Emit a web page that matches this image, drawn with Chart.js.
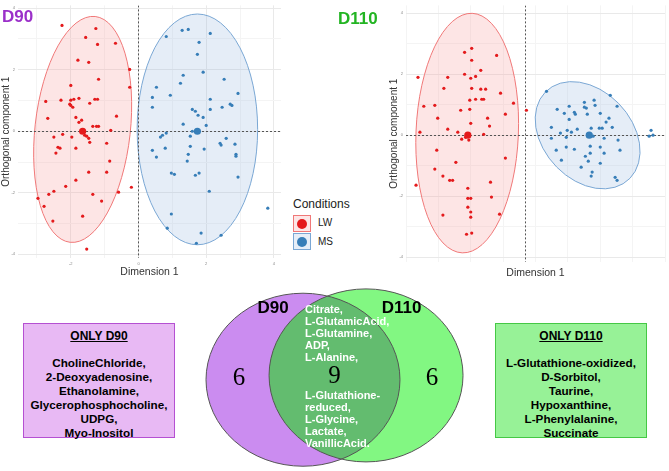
<!DOCTYPE html>
<html><head><meta charset="utf-8">
<script src="https://cdn.jsdelivr.net/npm/chart.js@4/dist/chart.umd.min.js"></script>
<style>
html,body{margin:0;padding:0;background:#fff;}
body{width:669px;height:471px;position:relative;overflow:hidden;font-family:"Liberation Sans",Arial,sans-serif;}
canvas{position:absolute;}
.abs{position:absolute;white-space:nowrap;}
.ttl{font-weight:bold;font-size:17px;line-height:17px;}
.box{position:absolute;box-sizing:border-box;border:1px solid;}
.box .hd{position:absolute;left:0;right:0;top:5px;text-align:center;font-weight:bold;font-size:12px;line-height:14px;text-decoration:underline;}
.box .ls{position:absolute;left:0;right:0;top:32px;text-align:center;font-weight:bold;font-size:11.7px;line-height:14px;}
.shared{position:absolute;color:#fff;font-weight:bold;font-size:11px;line-height:12px;white-space:nowrap;}
.key{position:absolute;width:18px;height:17px;box-sizing:border-box;border:1px solid;}
.key i{position:absolute;left:3px;top:2.5px;width:10px;height:10px;border-radius:50%;}
</style></head><body>
<canvas id="c90" width="285" height="278" style="left:0;top:0"></canvas>
<canvas id="c110" width="281" height="279" style="left:388px;top:0"></canvas>
<canvas id="cv" width="270" height="186" style="left:200px;top:285px"></canvas>
<div id="overlay"></div>
<script>
// ---------- DATA ----------
const conditions = ['LW', 'MS'];
const conditionColors = ['#e41a1c', '#377eb8'];

const d90LW = [[-2.26,3.44],[-1.26,3.34],[-1.56,3.05],[-1.21,2.82],[-0.68,2.86],[-1.79,2.31],[-1.47,2.24],[-0.26,2.01],
[-1.18,1.69],[-2.00,1.49],[-0.26,1.43],[-2.74,0.97],[-2.29,1.01],[-2.00,1.01],[-1.76,1.07],[-1.91,1.04],[-1.29,1.04],
[-1.21,1.04],[-1.44,0.91],[-2.00,0.84],[-1.94,0.78],[-2.03,0.88],[-0.65,0.49],[-2.68,0.42],[-1.85,0.45],[-1.68,0.36],
[-1.76,0.29],[-1.35,0.16],[-1.24,0.16],[-1.18,0.16],[-0.82,0.03],[-2.24,-0.10],[-1.97,-0.19],[-2.50,-0.19],[-1.59,-0.13],
[-1.53,-0.16],[-1.47,-0.23],[-1.44,-0.36],[-0.94,-0.39],[-2.38,-0.52],[-2.32,-0.55],[-1.85,-0.55],[-2.44,-0.71],
[-0.85,-0.97],[-1.47,-1.33],[-0.94,-1.33],[-1.85,-1.59],[-2.15,-1.79],[-0.21,-1.82],[-2.50,-1.95],[-2.65,-2.05],
[-2.97,-2.18],[-1.35,-2.05],[-0.59,-1.98],[-1.09,-2.27],[-2.79,-2.44],[-1.65,-2.76],[-2.53,-2.92],[-1.53,-3.83]];
const d90MS = [[0.82,3.08],[1.29,3.28],[1.47,3.31],[2.12,3.18],[1.79,2.89],[1.74,2.50],[1.32,1.82],[1.91,1.92],
[1.24,1.56],[0.53,1.43],[2.53,1.69],[2.94,1.23],[0.94,1.17],[0.41,1.10],[2.12,1.04],[2.71,0.88],[2.76,0.84],[0.41,0.78],
[2.47,0.78],[2.12,0.71],[1.59,0.71],[1.68,0.65],[1.76,0.52],[1.91,0.45],[1.32,0.23],[2.00,0.19],[1.59,0.00],[0.82,-0.06],
[0.71,-0.13],[0.65,-0.19],[1.53,-0.16],[2.59,-0.23],[2.41,-0.39],[2.44,-0.45],[2.85,-0.42],[1.53,-0.49],[0.79,-0.55],
[0.41,-0.62],[1.94,-0.58],[1.47,-0.75],[2.88,-0.75],[2.88,-0.81],[0.53,-0.84],[1.44,-0.97],[0.97,-1.36],[1.06,-1.40],
[1.68,-1.43],[1.79,-1.36],[2.94,-1.49],[2.09,-1.95],[3.82,-2.50],[0.97,-2.69],[0.85,-3.15],[1.85,-3.31],[2.44,-3.38],[1.71,-3.64]];
const d90Centroids = [[-1.65,0.00],[1.74,0.00]];
// ellipse: [centerX, centerY, u_x, u_y, v_x, v_y] (conjugate half-axes, data units)
const d90EllipseLW = [-1.65,0.06,0.37,3.67,1.40,-0.17];
const d90EllipseMS = [1.74,0.06,0.00,3.75,1.78,0.00];

const d110LW = [[-1.66,2.85],[-1.88,2.72],[-0.89,2.62],[-1.66,2.46],[-1.38,2.13],[-3.32,1.90],[-2.40,1.90],[-1.88,2.00],
[-1.69,1.87],[-1.54,1.93],[-2.52,1.54],[-1.66,1.54],[-1.38,1.51],[-1.23,1.51],[-0.77,1.38],[-1.72,1.15],[-1.54,1.18],
[-1.35,1.18],[-1.29,1.18],[-0.37,1.05],[0.03,0.82],[-3.14,0.95],[-2.80,0.98],[-2.00,0.82],[-1.72,0.85],[-0.62,0.69],
[-2.71,0.56],[-1.17,0.56],[-1.69,0.39],[-1.11,0.30],[-3.26,0.10],[-2.40,0.20],[-2.09,0.10],[-1.29,0.03],[-1.97,-0.13],
[-1.75,-0.16],[-1.85,-0.07],[-2.74,-0.49],[-0.62,-0.75],[-2.15,-0.89],[-2.80,-1.11],[-2.55,-1.34],[-2.34,-1.48],
[-2.25,-1.48],[-1.08,-1.54],[-3.38,-1.64],[-1.78,-1.74],[-1.78,-2.07],[-1.69,-2.07],[-1.05,-2.03],[-1.78,-2.36],
[-1.69,-2.52],[-2.55,-2.62],[-0.80,-2.59],[-1.69,-2.69],[-1.82,-3.25],[-1.66,-3.21]];
const d110MS = [[0.65,1.44],[2.62,1.31],[2.12,1.15],[1.82,1.08],[2.15,0.98],[1.35,0.95],[1.82,0.92],[1.88,0.89],
[2.83,0.95],[0.98,0.85],[1.20,0.72],[1.51,0.75],[2.31,0.72],[1.91,0.69],[1.54,0.69],[2.58,0.56],[1.35,0.52],[2.49,0.43],
[0.80,0.26],[1.29,0.16],[1.60,0.20],[2.03,0.23],[2.28,0.23],[2.37,0.23],[2.68,0.26],[1.08,0.07],[1.42,0.10],[2.09,-0.03],
[0.80,-0.10],[1.26,-0.07],[2.43,-0.10],[2.86,-0.16],[3.88,0.16],[3.94,0.00],[3.82,-0.03],[0.95,-0.49],[1.26,-0.39],
[1.51,-0.46],[2.00,-0.36],[2.31,-0.39],[2.92,-0.49],[1.85,-0.69],[2.00,-0.59],[2.43,-0.59],[1.11,-0.82],[1.94,-0.85],
[2.31,-0.92],[1.72,-1.05],[2.06,-1.21],[2.03,-1.34],[2.77,-1.38],[2.83,-1.48]];
const d110Centroids = [[-1.78,0.00],[1.97,0.00]];
const d110EllipseLW = [-1.80,0.07,0.154,3.93,1.58,-0.07];
const d110EllipseMS = [1.92,0.00,1.60,-0.26,-0.25,1.74];

const xTickLabels = [-2, 0, 2, 4];
const yTickLabels = [-4, -2, 0, 2, 4];

// Venn
const vennSets = ['D90', 'D110'];
const vennCounts = [6, 9, 6];           // only D90, both, only D110
const onlyD90 = ['CholineChloride','2-Deoxyadenosine','Ethanolamine','Glycerophosphocholine','UDPG','Myo-Inositol'];
const onlyD110 = ['L-Glutathione-oxidized','D-Sorbitol','Taurine','Hypoxanthine','L-Phenylalanine','Succinate'];
const shared = ['Citrate','L-GlutamicAcid','L-Glutamine','ADP','L-Alanine','L-Glutathione-reduced','L-Glycine','Lactate','VanillicAcid'];

// ---------- DRAWING ----------
const pt = a => a.map(p => ({x: p[0], y: p[1]}));

const ellipsePlugin = {
  id: 'ellipses',
  beforeDatasetsDraw(chart, args, opts) {
    const {ctx, chartArea: a, scales: {x, y}} = chart;
    ctx.save();
    ctx.beginPath(); ctx.rect(a.left, a.top, a.width, a.height); ctx.clip();
    (opts.items || []).forEach(e => {
      const [cx, cy, ux, uy, vx, vy] = e.p;
      const C = [x.getPixelForValue(cx), y.getPixelForValue(cy)];
      const U = [x.getPixelForValue(cx + ux) - C[0], y.getPixelForValue(cy + uy) - C[1]];
      const V = [x.getPixelForValue(cx + vx) - C[0], y.getPixelForValue(cy + vy) - C[1]];
      ctx.save();
      ctx.beginPath();
      ctx.transform(U[0], U[1], V[0], V[1], C[0], C[1]);
      ctx.arc(0, 0, 1, 0, Math.PI * 2);
      ctx.restore();
      ctx.fillStyle = e.fill; ctx.fill();
      ctx.strokeStyle = e.stroke; ctx.lineWidth = 1; ctx.stroke();
    });
    ctx.setLineDash([2, 2]); ctx.strokeStyle = '#555'; ctx.lineWidth = 1;
    const x0 = Math.round(x.getPixelForValue(0)) + 0.5, y0 = Math.round(y.getPixelForValue(0)) + 0.5;
    ctx.beginPath();
    ctx.moveTo(x0, a.top); ctx.lineTo(x0, a.bottom);
    ctx.moveTo(a.left, y0); ctx.lineTo(a.right, y0);
    ctx.stroke();
    ctx.restore();
  }
};

function scatter(id, lw, ms, cents, eLW, eMS, xr, yr, xH, padR) {
  const gridCol = (list) => (c) => (c.tick && list.includes(c.tick.value)) ? '#e9e9e9' : '#f4f4f4';
  const tickCb = (list) => (v) => list.includes(v) ? String(v) : '';
  new Chart(document.getElementById(id), {
    type: 'scatter',
    data: { datasets: [
      {label: conditions[0], data: pt(lw), backgroundColor: conditionColors[0], borderColor: conditionColors[0], pointRadius: 1.6, pointBorderWidth: 0},
      {label: conditions[1], data: pt(ms), backgroundColor: conditionColors[1], borderColor: conditionColors[1], pointRadius: 1.6, pointBorderWidth: 0},
      {label: 'centroids', data: pt(cents), backgroundColor: conditionColors, pointRadius: 3.6, pointBorderWidth: 0}
    ]},
    options: {
      responsive: false, animation: false, events: [],
      layout: {padding: {top: 5, right: padR, left: 0, bottom: 0}},
      plugins: {legend: {display: false}, tooltip: {enabled: false},
        ellipses: {items: [
          {p: eLW, fill: 'rgba(248,160,160,0.28)', stroke: '#f07878'},
          {p: eMS, fill: 'rgba(150,185,225,0.25)', stroke: '#7aa7d4'}
        ]}},
      scales: {
        x: {type: 'linear', min: xr[0], max: xr[1],
          afterFit: s => { s.height = xH; },
          border: {display: false},
          grid: {drawTicks: false, color: gridCol(xTickLabels), lineWidth: 1},
          ticks: {stepSize: 1, includeBounds: false, autoSkip: false, maxRotation: 0, padding: 3, font: {size: 4}, color: '#888', callback: tickCb(xTickLabels)},
          title: {display: true, text: 'Dimension 1', font: {size: 10.5, family: 'Liberation Sans'}, color: '#333', padding: 0}},
        y: {type: 'linear', min: yr[0], max: yr[1],
          afterFit: s => { s.width = 18; },
          border: {display: false},
          grid: {drawTicks: false, color: gridCol(yTickLabels), lineWidth: 1},
          ticks: {stepSize: 1, includeBounds: false, autoSkip: false, padding: 3, font: {size: 4}, color: '#888', callback: tickCb(yTickLabels)},
          title: {display: true, text: 'Orthogonal component 1', font: {size: 10, family: 'Liberation Sans'}, color: '#333', padding: 0}}
      }
    },
    plugins: [ellipsePlugin]
  });
}

scatter('c90', d90LW, d90MS, d90Centroids, d90EllipseLW, d90EllipseMS, [-3.56, 4.21], [-4.12, 4.09], 20, 3);
scatter('c110', d110LW, d110MS, d110Centroids, d110EllipseLW, d110EllipseMS, [-3.69, 4.31], [-4.16, 4.26], 17, 2);

// Venn diagram
const vennPlugin = {
  id: 'venn',
  afterDraw(chart, args, o) {
    const {ctx, scales: {x, y}} = chart;
    const path = c => {
      const cx = x.getPixelForValue(c[0]), cy = y.getPixelForValue(c[1]);
      const rx = Math.abs(x.getPixelForValue(c[0] + c[2]) - cx), ry = Math.abs(y.getPixelForValue(c[1] + c[2]) - cy);
      ctx.beginPath(); ctx.ellipse(cx, cy, rx, ry, 0, 0, Math.PI * 2);
    };
    ctx.save();
    path(o.circles[0]); ctx.fillStyle = '#cb8cf0'; ctx.fill();
    path(o.circles[1]); ctx.fillStyle = '#82f782'; ctx.fill();
    ctx.save(); path(o.circles[0]); ctx.clip(); path(o.circles[1]); ctx.fillStyle = '#63bc6f'; ctx.fill(); ctx.restore();
    ctx.strokeStyle = '#555'; ctx.lineWidth = 1;
    path(o.circles[0]); ctx.stroke();
    path(o.circles[1]); ctx.stroke();
    ctx.fillStyle = '#000'; ctx.textAlign = 'center'; ctx.textBaseline = 'middle';
    ctx.font = 'bold 17px "Liberation Sans"';
    vennSets.forEach((s, i) => ctx.fillText(s, x.getPixelForValue(o.setPos[i][0]), y.getPixelForValue(o.setPos[i][1])));
    ctx.font = '25px "Liberation Serif"';
    vennCounts.forEach((n, i) => ctx.fillText(String(n), x.getPixelForValue(o.countPos[i][0]), y.getPixelForValue(o.countPos[i][1])));
    ctx.restore();
  }
};
new Chart(document.getElementById('cv'), {
  type: 'scatter',
  data: {datasets: []},
  options: {
    responsive: false, animation: false, events: [],
    layout: {padding: 0},
    plugins: {legend: {display: false}, tooltip: {enabled: false},
      venn: {
        circles: [[-0.325, -0.02, 1], [0.325, 0.03, 1]],
        setPos: [[-0.634, 0.80], [0.691, 0.80]],
        countPos: [[-0.985, 0.0], [0.0, 0.02], [1.005, 0.0]]
      }},
    scales: {x: {display: false, min: -1.387, max: 1.397}, y: {display: false, min: -1.075, max: 1.075}}
  },
  plugins: [vennPlugin]
});

// ---------- HTML text ----------
const ov = document.getElementById('overlay');
function add(html, style, cls) { const d = document.createElement('div'); d.className = cls || 'abs'; d.setAttribute('style', style); d.innerHTML = html; ov.appendChild(d); return d; }
add('D90', 'left:2px;top:8px;color:#9b30c9;', 'abs ttl');
add('D110', 'left:338px;top:10px;color:#22b422;', 'abs ttl');
// legend
add('Conditions', 'left:293px;top:197px;font-size:12px;line-height:14px;color:#222;');
add('<i style="background:' + conditionColors[0] + '"></i>', 'left:293px;top:215px;border-color:#f07878;background:#fde6e6;', 'key');
add('<i style="background:' + conditionColors[1] + '"></i>', 'left:293px;top:233px;border-color:#7aa7d4;background:#e6eef8;', 'key');
add(conditions[0], 'left:318px;top:217px;font-size:10px;line-height:12px;color:#222;');
add(conditions[1], 'left:318px;top:236px;font-size:10px;line-height:12px;color:#222;');
// boxes
const list = (arr) => arr.map((s, i) => s + (i < arr.length - 1 ? ',' : '')).join('<br>');
add('<div class="hd">ONLY D90</div><div class="ls">' + list(onlyD90) + '</div>',
  'left:23px;top:323px;width:152px;height:115px;background:#e8b9f4;border-color:#b550d2;', 'box');
add('<div class="hd">ONLY D110</div><div class="ls">' + list(onlyD110) + '</div>',
  'left:495px;top:323px;width:152px;height:115px;background:#97f297;border-color:#45c845;', 'box');
// shared list inside the intersection
const sh = shared.map((s, i) => s + (i < shared.length - 1 ? ',' : '.'));
add(sh.slice(0, 5).join('<br>'), 'left:305px;top:303px;', 'shared');
add(sh.slice(5).map(s => s.replace('Glutathione-', 'Glutathione-<br>')).join('<br>'), 'left:305px;top:389px;', 'shared');
</script>
</body></html>
